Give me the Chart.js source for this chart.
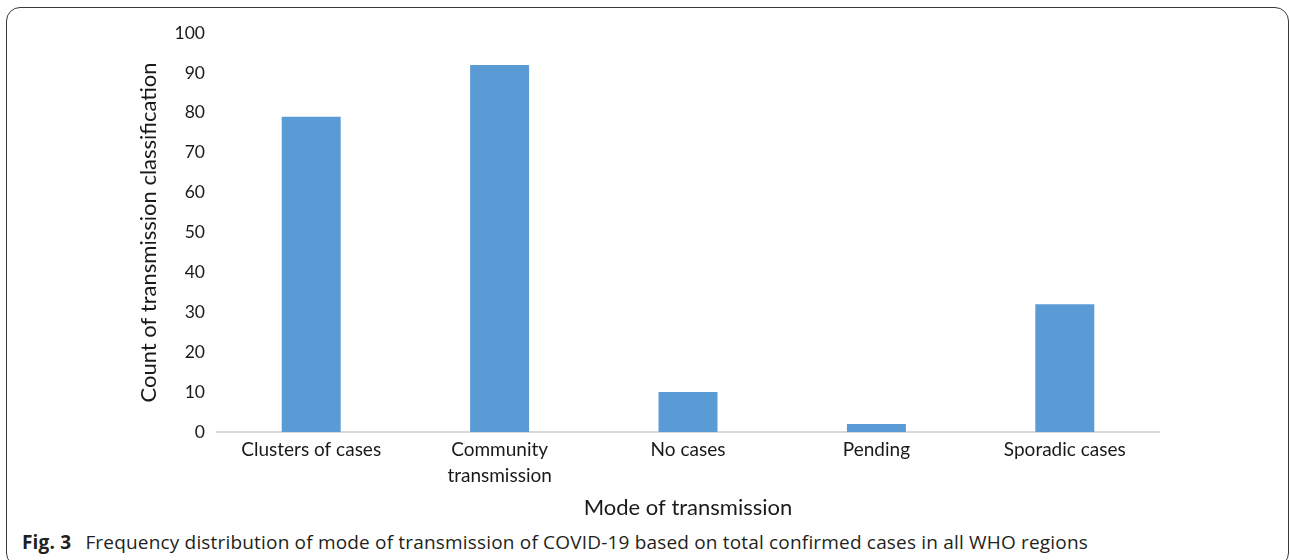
<!DOCTYPE html>
<html>
<head>
<meta charset="utf-8">
<script src="https://cdn.jsdelivr.net/npm/chart.js@4/dist/chart.umd.min.js"></script>
<style>
  html, body { margin: 0; padding: 0; background: #fff; }
  body { width: 1290px; height: 560px; position: relative; overflow: hidden; }
  .frame {
    position: absolute; left: 6px; top: 7px; width: 1283px; height: 560px;
    border: 1.5px solid #3a3a3a; border-radius: 14px; box-sizing: border-box;
  }
  #chartWrap { position: absolute; left: 0; top: 0; width: 1290px; height: 521px; }
  .caption {
    position: absolute; left: 22px; top: 529px;
    font-family: "Open Sans", sans-serif; font-size: 19px; color: #231f20;
    white-space: nowrap; letter-spacing: 0.18px;
  }
  .caption b { margin-right: 9px; }
</style>
</head>
<body>
<div class="frame"></div>
<div id="chartWrap"><canvas id="modeChart"></canvas></div>
<div class="caption"><b>Fig. 3</b> Frequency distribution of mode of transmission of COVID-19 based on total confirmed cases in all WHO regions</div>
<script>
const CATEGORIES = ['Clusters of cases', ['Community', 'transmission'], 'No cases', 'Pending', 'Sporadic cases'];
const COUNTS = [79, 92, 10, 2, 32];
const Y_TICKS = [0, 10, 20, 30, 40, 50, 60, 70, 80, 90, 100];

const FONT = 'Lato, "Open Sans", sans-serif';

const ctx = document.getElementById('modeChart').getContext('2d');

new Chart(ctx, {
    type: 'bar',
    data: {
        labels: CATEGORIES,
        datasets: [{
            label: 'Count',
            data: COUNTS,
            backgroundColor: '#5b9bd5',
            borderWidth: 0,
            barPercentage: 0.313,
            categoryPercentage: 1
        }]
    },
    options: {
        responsive: true,
        maintainAspectRatio: false,
        animation: false,
        layout: { padding: { left: 136, right: 131, top: 33, bottom: 0 } },
        plugins: {
            legend: { display: false },
            tooltip: { enabled: false }
        },
        scales: {
            x: {
                afterFit: axis => { axis.height = 89; },
                grid: { display: false, drawTicks: false },
                border: { color: '#d9d9d9', width: 2 },
                ticks: {
                    color: '#1a1a1a',
                    font: { family: FONT, size: 19, lineHeight: 1.37 },
                    padding: 5,
                    maxRotation: 0
                },
                title: {
                    display: true,
                    text: 'Mode of transmission',
                    color: '#1a1a1a',
                    font: { family: FONT, size: 22 },
                    padding: { top: 6, bottom: 0 }
                }
            },
            y: {
                min: 0,
                max: 100,
                afterFit: axis => { axis.width = 81; },
                afterBuildTicks: axis => {
                    axis.ticks = Y_TICKS.map(v => ({ value: v }));
                },
                grid: { display: false, drawTicks: false },
                border: { display: false },
                ticks: {
                    color: '#1a1a1a',
                    font: { family: FONT, size: 17.5 },
                    padding: 12
                },
                title: {
                    display: true,
                    text: 'Count of transmission classification',
                    color: '#1a1a1a',
                    font: { family: FONT, size: 22 },
                    padding: { top: 0, bottom: 2 }
                }
            }
        }
    }
});
</script>
</body>
</html>
